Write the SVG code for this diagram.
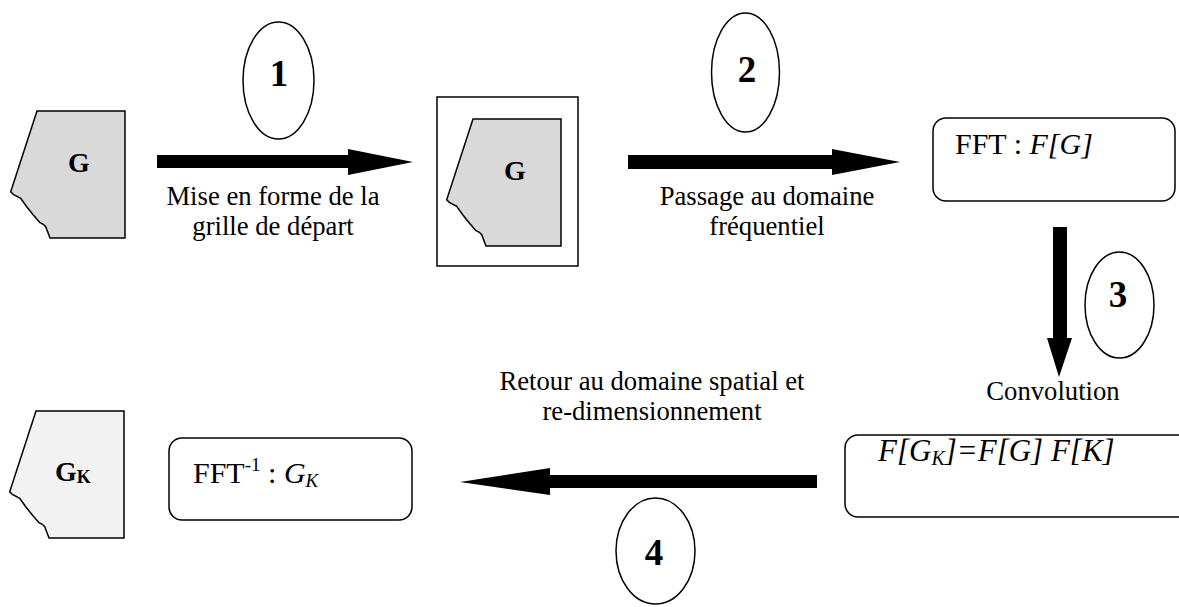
<svg xmlns="http://www.w3.org/2000/svg" width="1179" height="607" viewBox="0 0 1179 607">
  <style>
    text { font-family: 'Liberation Serif', 'Times New Roman', serif; fill: #000; }
    .lbl { font-size: 26.67px; text-anchor: middle; }
    .num { font-size: 37px; font-weight: bold; text-anchor: middle; }
    .gl { font-size: 28px; font-weight: bold; }
    .bx { font-size: 30px; }
    .ell { fill: #fff; stroke: #000; stroke-width: 1.5; }
    .box { fill: #fff; stroke: #000; stroke-width: 1.5; }
    .grid { stroke: #000; stroke-width: 1.5; stroke-linejoin: miter; }
    .arrow { fill: #000; stroke: none; }
    .it { font-style: italic; }
  </style>
  <defs>
    <path id="gridShape" d="M37,111 L125,111 L125,238 L50,238 L45.7,226.7 L43.3,224.3 L40,222.7 L33.3,215 L26.7,206.7 L20.7,198.3 L13.3,194.3 L10.7,191.7 Z"/>
  </defs>
  <rect width="1179" height="607" fill="#fff"/>

  <g id="connectors">
    <path class="arrow" d="M157,155 L348,155 L348,149 L413,162 L348,175 L348,168 L157,168 Z"/>
    <path class="arrow" d="M628,155 L832,155 L832,149 L900,162 L832,175 L832,169 L628,169 Z"/>
    <path class="arrow" d="M1053,227 L1067,227 L1067,338 L1072,338 L1059,377 L1047,338 L1053,338 Z"/>
    <path class="arrow" d="M817,475 L550,475 L550,468 L460,482 L550,495 L550,488 L817,488 Z"/>
  </g>

  <g id="grid-G">
    <use href="#gridShape" class="grid" fill="#d9d9d9"/>
    <text class="gl" x="79" y="172" text-anchor="middle">G</text>
  </g>

  <g id="grid-G-framed">
    <rect class="box" x="437" y="97" width="141" height="169"/>
    <use href="#gridShape" class="grid" fill="#d9d9d9" transform="translate(436,8)"/>
    <text class="gl" x="515" y="180" text-anchor="middle">G</text>
  </g>

  <g id="fft">
    <rect class="box" x="933" y="118" width="242" height="83" rx="13"/>
    <text class="bx" x="955" y="154">FFT : <tspan class="it">F[G]</tspan></text>
  </g>

  <g id="conv">
    <rect class="box" x="845" y="435" width="360" height="82" rx="13"/>
    <text class="bx it" x="878" y="461" style="font-size:31px">F[G<tspan dy="4" style="font-size:20px">K</tspan><tspan dy="-4">]=F[G] F[K]</tspan></text>
  </g>

  <g id="ifft">
    <rect class="box" x="169" y="438" width="243" height="82" rx="13"/>
    <text class="bx" x="193" y="483">FFT<tspan dy="-12" style="font-size:19px">-1</tspan><tspan dy="12"> : </tspan><tspan class="it">G</tspan><tspan class="it" dy="4" style="font-size:19px">K</tspan></text>
  </g>

  <g id="grid-GK">
    <use href="#gridShape" class="grid" fill="#f2f2f2" transform="translate(-1,300)"/>
    <text class="gl" x="55" y="481">G<tspan dy="2" style="font-size:18px">K</tspan></text>
  </g>

  <g id="step1">
    <ellipse class="ell" cx="278.5" cy="80.5" rx="35.5" ry="58.5"/>
    <text class="num" x="279" y="86">1</text>
  </g>
  <g id="step2">
    <ellipse class="ell" cx="745.5" cy="72.5" rx="34" ry="59.5"/>
    <text class="num" x="747" y="82">2</text>
  </g>
  <g id="step3">
    <ellipse class="ell" cx="1119.5" cy="305" rx="34.5" ry="53"/>
    <text class="num" x="1118" y="307">3</text>
  </g>
  <g id="step4">
    <ellipse class="ell" cx="655.5" cy="551" rx="39.5" ry="53"/>
    <text class="num" x="654" y="565">4</text>
  </g>

  <g id="labels">
    <text class="lbl" x="273" y="205">Mise en forme de la</text>
    <text class="lbl" x="273" y="235">grille de départ</text>
    <text class="lbl" x="767" y="205">Passage au domaine</text>
    <text class="lbl" x="767" y="235">fréquentiel</text>
    <text class="lbl" x="1053" y="400">Convolution</text>
    <text class="lbl" x="652" y="390">Retour au domaine spatial et</text>
    <text class="lbl" x="652" y="420">re-dimensionnement</text>
  </g>
</svg>
